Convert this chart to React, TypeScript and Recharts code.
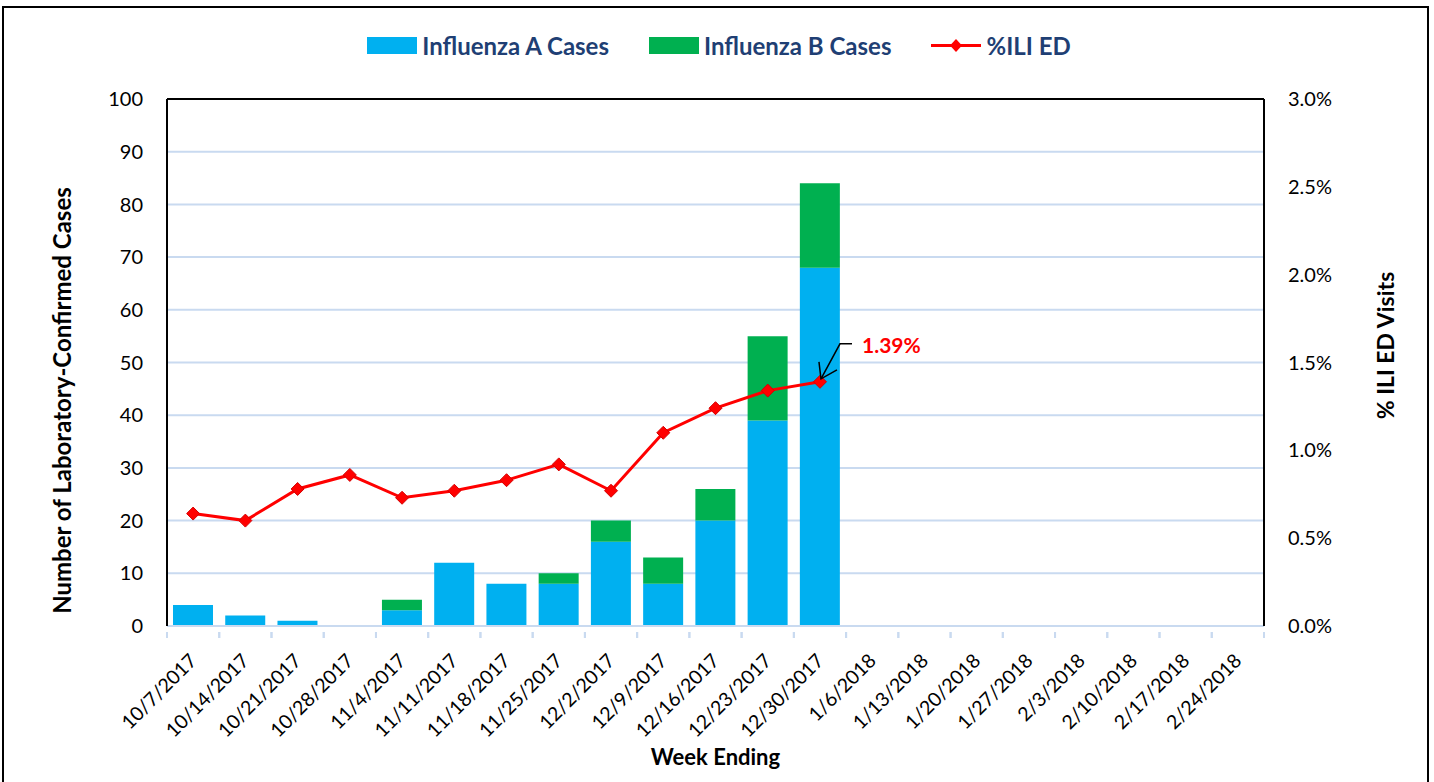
import {
  ComposedChart,
  Bar,
  Line,
  XAxis,
  YAxis,
  CartesianGrid,
  Legend,
  ReferenceLine,
  LabelList,
} from "recharts";

const weeks = [
  "10/7/2017", "10/14/2017", "10/21/2017", "10/28/2017", "11/4/2017",
  "11/11/2017", "11/18/2017", "11/25/2017", "12/2/2017", "12/9/2017",
  "12/16/2017", "12/23/2017", "12/30/2017", "1/6/2018", "1/13/2018",
  "1/20/2018", "1/27/2018", "2/3/2018", "2/10/2018", "2/17/2018", "2/24/2018",
];
const fluA = [4, 2, 1, 0, 3, 12, 8, 8, 16, 8, 20, 39, 68];
const fluB = [0, 0, 0, 0, 2, 0, 0, 2, 4, 5, 6, 16, 16];
const iliPct = [0.64, 0.6, 0.78, 0.86, 0.73, 0.77, 0.83, 0.92, 0.77, 1.1, 1.24, 1.34, 1.39];
const leftTicks = [0, 10, 20, 30, 40, 50, 60, 70, 80, 90, 100];
const rightTicks = [0, 0.5, 1, 1.5, 2, 2.5, 3];

const chartData = weeks.map((week, i) => ({
  week,
  fluA: fluA[i] ?? null,
  fluB: fluB[i] ?? null,
  ili: iliPct[i] ?? null,
}));

const FONT = "Lato, 'Open Sans', sans-serif";
const BLUE = "#00b0f0";
const GREEN = "#00b050";
const RED = "#ff0000";
const GRID = "#c9daf0";
const LEGEND_TEXT = "#1f3f74";

const W = 1434;
const H = 782;
const margin = { top: 59, right: 40, bottom: 36, left: 40 };
const leftAxisW = 127;
const rightAxisW = 130;
const bandW = (W - margin.left - margin.right - leftAxisW - rightAxisW) / weeks.length;

function WeekTick({ x, y, payload }: any) {
  return (
    <g transform={`translate(${x},${y})`}>
      <line x1={-bandW / 2} x2={-bandW / 2} y1={-2} y2={4} stroke={GRID} strokeWidth={2} />
      <line x1={bandW / 2} x2={bandW / 2} y1={-2} y2={4} stroke={GRID} strokeWidth={2} />
      <text
        transform="translate(5,28) rotate(-45)"
        textAnchor="end"
        fontFamily={FONT}
        fontSize={19.5}
        fill="#000"
      >
        {payload.value}
      </text>
    </g>
  );
}

function Diamond({ cx, cy }: any) {
  if (cx == null || cy == null) return null;
  const r = 6.5;
  return (
    <path
      d={`M${cx},${cy - r}L${cx + r},${cy}L${cx},${cy + r}L${cx - r},${cy}Z`}
      fill={RED}
      stroke="#d40000"
      strokeWidth={1}
    />
  );
}

function LatestCallout(props: any) {
  const { x, y, index, value } = props;
  if (index !== iliPct.length - 1 || value == null) return null;
  return (
    <g>
      <polyline
        points={`${x + 32},${y - 38} ${x + 20},${y - 38} ${x + 1},${y - 3}`}
        fill="none"
        stroke="#000"
        strokeWidth={1.5}
      />
      <polyline
        points={`${x - 1},${y - 20} ${x + 1},${y - 3} ${x + 17},${y - 12}`}
        fill="none"
        stroke="#000"
        strokeWidth={1.5}
      />
      <text x={x + 42} y={y - 29} fontFamily={FONT} fontWeight={700} fontSize={21} fill={RED}>
        {value.toFixed(2)}%
      </text>
    </g>
  );
}

function LegendContent() {
  const item = (swatch: any, label: string) => (
    <div style={{ display: "flex", alignItems: "center", gap: 5 }}>
      {swatch}
      <span style={{ fontFamily: FONT, fontWeight: 700, fontSize: 24, color: LEGEND_TEXT }}>
        {label}
      </span>
    </div>
  );
  return (
    <div style={{ display: "flex", justifyContent: "center", gap: 40, paddingLeft: 4 }}>
      {item(<div style={{ width: 50, height: 17, background: BLUE }} />, "Influenza A Cases")}
      {item(<div style={{ width: 50, height: 17, background: GREEN }} />, "Influenza B Cases")}
      {item(
        <svg width={50} height={17}>
          <line x1={0} x2={50} y1={8.5} y2={8.5} stroke={RED} strokeWidth={3} />
          <path d="M25,2L31,8.5L25,15L19,8.5Z" fill={RED} />
        </svg>,
        "%ILI ED"
      )}
    </div>
  );
}

function LeftTitle({ viewBox }: any) {
  const cx = viewBox.x + 21;
  const cy = viewBox.y + viewBox.height / 2 + 38;
  return (
    <text
      transform={`translate(${cx},${cy}) rotate(-90)`}
      textAnchor="middle"
      dominantBaseline="central"
      fontFamily={FONT}
      fontWeight={700}
      fontSize={24}
      fill="#000"
    >
      Number of Laboratory-Confirmed Cases
    </text>
  );
}

function RightTitle({ viewBox }: any) {
  const cx = viewBox.x + 121;
  const cy = viewBox.y + viewBox.height / 2 - 17;
  return (
    <text
      transform={`translate(${cx},${cy}) rotate(-90)`}
      textAnchor="middle"
      dominantBaseline="central"
      fontFamily={FONT}
      fontWeight={700}
      fontSize={23}
      fill="#000"
    >
      % ILI ED Visits
    </text>
  );
}

export default function App() {
  return (
    <div style={{ position: "relative", width: W, height: H, background: "#fff", overflow: "hidden" }}>
      <style>{`body{margin:0}`}</style>
      <div
        style={{
          position: "absolute",
          left: 2,
          top: 6,
          width: 1427,
          height: 800,
          border: "2px solid #000",
          boxSizing: "border-box",
        }}
      />
      <ComposedChart width={W} height={H} data={chartData} margin={margin}>
        <CartesianGrid yAxisId="left" vertical={false} stroke={GRID} strokeWidth={2} />
        <XAxis
          dataKey="week"
          interval={0}
          height={120}
          tick={<WeekTick />}
          tickLine={false}
          axisLine={{ stroke: GRID, strokeWidth: 2 }}
          label={{
            value: "Week Ending",
            position: "insideBottom",
            offset: -19,
            style: { fontFamily: FONT, fontWeight: 700, fontSize: 22, fill: "#000" },
          }}
        />
        <YAxis
          yAxisId="left"
          width={leftAxisW}
          domain={[0, 100]}
          ticks={leftTicks}
          tickLine={false}
          tickMargin={18}
          axisLine={{ stroke: "#000", strokeWidth: 2 }}
          tick={{ fontFamily: FONT, fontSize: 20, fill: "#000" }}
          label={<LeftTitle />}
        />
        <YAxis
          yAxisId="right"
          orientation="right"
          width={rightAxisW}
          domain={[0, 3]}
          ticks={rightTicks}
          tickFormatter={(v: number) => `${v.toFixed(1)}%`}
          tickLine={false}
          tickMargin={18}
          axisLine={{ stroke: "#000", strokeWidth: 2 }}
          tick={{ fontFamily: FONT, fontSize: 20, fill: "#000" }}
          label={<RightTitle />}
        />
        <ReferenceLine yAxisId="left" y={100} stroke="#000" strokeWidth={2} />
        <Legend verticalAlign="top" height={40} wrapperStyle={{ top: 31 }} content={<LegendContent />} />
        <Bar
          yAxisId="left"
          dataKey="fluA"
          name="Influenza A Cases"
          stackId="cases"
          fill={BLUE}
          barSize={40}
          isAnimationActive={false}
        />
        <Bar
          yAxisId="left"
          dataKey="fluB"
          name="Influenza B Cases"
          stackId="cases"
          fill={GREEN}
          barSize={40}
          isAnimationActive={false}
        />
        <Line
          yAxisId="right"
          type="linear"
          dataKey="ili"
          name="%ILI ED"
          stroke={RED}
          strokeWidth={3}
          dot={<Diamond />}
          activeDot={false}
          isAnimationActive={false}
        >
          <LabelList dataKey="ili" content={<LatestCallout />} />
        </Line>
      </ComposedChart>
    </div>
  );
}
